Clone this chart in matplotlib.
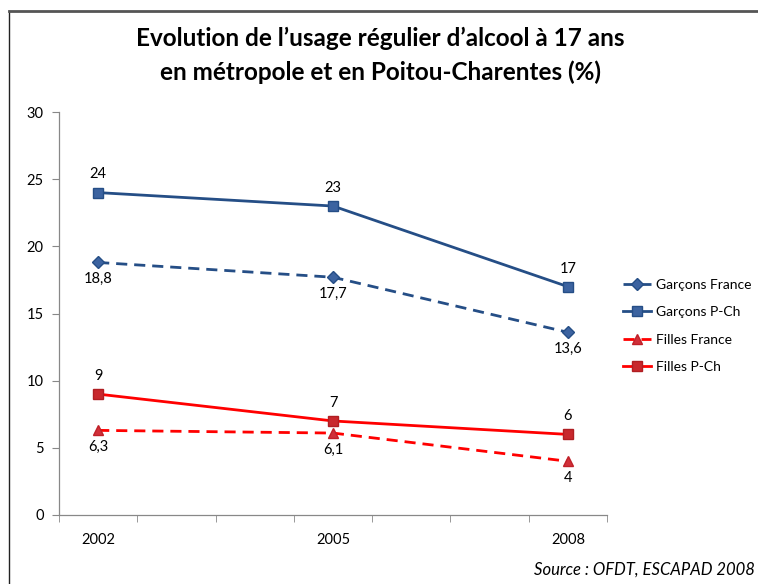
import matplotlib
matplotlib.use("Agg")
from matplotlib import pyplot as plt
from matplotlib.ticker import FixedLocator

plt.rcParams['font.family'] = ['Lato', 'DejaVu Sans']

years = [2002, 2005, 2008]
garcons_france = [18.8, 17.7, 13.6]
garcons_pch = [24, 23, 17]
filles_france = [6.3, 6.1, 4]
filles_pch = [9, 7, 6]
labels_gf = ['18,8', '17,7', '13,6']
labels_gp = ['24', '23', '17']
labels_ff = ['6,3', '6,1', '4']
labels_fp = ['9', '7', '6']

blue = '#254E86'
blue_mk = '#3C63A0'
red = '#FF0000'

fig = plt.figure(figsize=(7.58, 5.84), dpi=100)
ax = fig.add_axes([59 / 758, 1 - 515 / 584, (607 - 59) / 758, (515 - 112) / 584])

ax.plot(years, garcons_france, color=blue, lw=2, ls=(0, (4, 2.5)), marker='D',
        ms=6, mfc=blue_mk, mec=blue, label='Garçons France')
ax.plot(years, garcons_pch, color=blue, lw=2, marker='s', ms=7,
        mfc=blue_mk, mec=blue, label='Garçons P-Ch')
ax.plot(years, filles_france, color=red, lw=2, ls=(0, (4, 2.5)), marker='^',
        ms=7, mfc='#D0303A', mec='#C02028', label='Filles France')
ax.plot(years, filles_pch, color=red, lw=2, marker='s', ms=7,
        mfc='#C8282D', mec='#B01E22', label='Filles P-Ch')

# etiquettes de donnees
for x, y, t in zip(years, garcons_pch, labels_gp):
    ax.annotate(t, (x, y), xytext=(0, 8), textcoords='offset points',
                ha='center', va='bottom', fontsize=10.5)
for x, y, t in zip(years, filles_pch, labels_fp):
    ax.annotate(t, (x, y), xytext=(0, 8), textcoords='offset points',
                ha='center', va='bottom', fontsize=10.5)
for x, y, t in zip(years, garcons_france, labels_gf):
    ax.annotate(t, (x, y), xytext=(0, -7), textcoords='offset points',
                ha='center', va='top', fontsize=10.5)
for x, y, t in zip(years, filles_france, labels_ff):
    ax.annotate(t, (x, y), xytext=(0, -7), textcoords='offset points',
                ha='center', va='top', fontsize=10.5)

ax.set_xlim(2001.5, 2008.5)
ax.set_ylim(0, 30)
ax.set_yticks(range(0, 31, 5))
ax.set_xticks(years)
ax.xaxis.set_minor_locator(FixedLocator([2001.5 + i for i in range(8)]))
ax.tick_params(axis='x', which='major', length=0, pad=13, labelsize=10.5)
ax.tick_params(axis='x', which='minor', length=5, color='#888888', direction='out')
ax.tick_params(axis='y', length=5, color='#888888', labelsize=10.5, pad=6)

for side in ['top', 'right']:
    ax.spines[side].set_visible(False)
for side in ['left', 'bottom']:
    ax.spines[side].set_color('#888888')
    ax.spines[side].set_linewidth(0.9)

fig.text(380 / 758, 1 - 38 / 584, "Evolution de l\u2019usage régulier d\u2019alcool à 17 ans",
         ha='center', va='center', fontsize=17.5, fontweight='bold')
fig.text(380 / 758, 1 - 72 / 584, "en métropole et en Poitou-Charentes (%)",
         ha='center', va='center', fontsize=17.5, fontweight='bold')

leg = fig.legend(loc='upper left', bbox_to_anchor=(623 / 758, 1 - 279 / 584),
                 frameon=False, fontsize=10, handlelength=2.0, handletextpad=0.4,
                 labelspacing=1.1, borderaxespad=0, borderpad=0)

fig.text(755 / 758, 1 - 570 / 584, "Source : OFDT, ESCAPAD 2008", ha='right',
         va='center', fontsize=12, style='italic')

# cadre
fig.add_artist(plt.Line2D([9 / 758, 9 / 758], [0, 1 - 11 / 584], color='#222222', lw=1))
fig.add_artist(plt.Line2D([9 / 758, 1], [1 - 11 / 584, 1 - 11 / 584], color='#555555', lw=2))

fig.savefig('out.png', dpi=100)
